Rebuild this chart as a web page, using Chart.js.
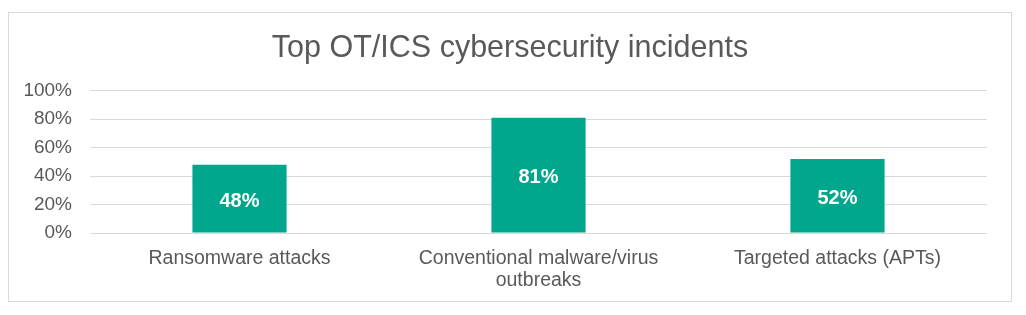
<!DOCTYPE html>
<html lang="en">
<head>
  <meta charset="UTF-8" />
  <title>Top OT/ICS cybersecurity incidents</title>
  <script src="https://cdn.jsdelivr.net/npm/chart.js"></script>
  <style>
    body { margin: 0; background: #fff; }
    #wrap { position: relative; width: 1026px; height: 315px; }
    #frame {
      position: absolute; left: 8px; top: 12px; width: 1004px; height: 290px;
      border: 1px solid #d9d9d9; box-sizing: border-box; pointer-events: none;
    }
    canvas { position: absolute; left: 0; top: 0; }
  </style>
</head>
<body>
<div id="wrap">
  <canvas id="chart" width="1026" height="315"></canvas>
  <div id="frame"></div>
</div>

<script>
const categories = [
  "Ransomware attacks",
  ["Conventional malware/virus", "outbreaks"],
  "Targeted attacks (APTs)"
];
const shares = [48, 81, 52];
const yTicks = [0, 20, 40, 60, 80, 100];

const FONT = '"Liberation Sans", Arial, sans-serif';
const TEXT = "#595959";

// white value labels in the middle of each bar
const barLabels = {
  id: "barLabels",
  afterDatasetsDraw(chart) {
    const ctx = chart.ctx;
    const meta = chart.getDatasetMeta(0);
    ctx.save();
    ctx.fillStyle = "#ffffff";
    ctx.font = "bold 20px " + FONT;
    ctx.textAlign = "center";
    ctx.textBaseline = "middle";
    meta.data.forEach((bar, i) => {
      ctx.fillText(shares[i] + "%", bar.x, (bar.y + bar.base) / 2 + 2.5);
    });
    ctx.restore();
  }
};

new Chart(document.getElementById("chart"), {
  type: "bar",
  data: {
    labels: categories,
    datasets: [{
      data: shares,
      backgroundColor: "#00a78c",
      categoryPercentage: 1,
      barPercentage: 0.315
    }]
  },
  options: {
    responsive: false,
    animation: false,
    devicePixelRatio: 1,
    layout: { padding: { left: 10, right: 16, top: 0, bottom: 22 } },
    plugins: {
      legend: { display: false },
      tooltip: { enabled: false },
      title: {
        display: true,
        text: "Top OT/ICS cybersecurity incidents",
        color: TEXT,
        font: { family: FONT, size: 30.5, weight: "normal" },
        padding: { top: 30, bottom: 24 }
      }
    },
    scales: {
      x: {
        grid: { display: false },
        border: { display: false },
        ticks: {
          color: TEXT,
          padding: 6,
          maxRotation: 0,
          autoSkip: false,
          font: { family: FONT, size: 19.5, lineHeight: 1.15 }
        },
        afterFit(scale) { scale.height = 60; }
      },
      y: {
        min: 0,
        max: 100,
        afterBuildTicks(scale) { scale.ticks = yTicks.map(v => ({ value: v })); },
        grid: { color: "#d9d9d9", lineWidth: 1, drawTicks: false },
        border: { display: false },
        ticks: {
          color: TEXT,
          padding: 18,
          font: { family: FONT, size: 19 },
          callback: v => v + "%"
        },
        afterFit(scale) { scale.width = 80; }
      },
      // empty right-hand spacer so the plot ends where the reference's does
      yRight: {
        position: "right",
        min: 0,
        max: 100,
        grid: { display: false },
        border: { display: false },
        ticks: { display: false },
        afterFit(scale) { scale.width = 23; }
      }
    }
  },
  plugins: [barLabels]
});
</script>
</body>
</html>
